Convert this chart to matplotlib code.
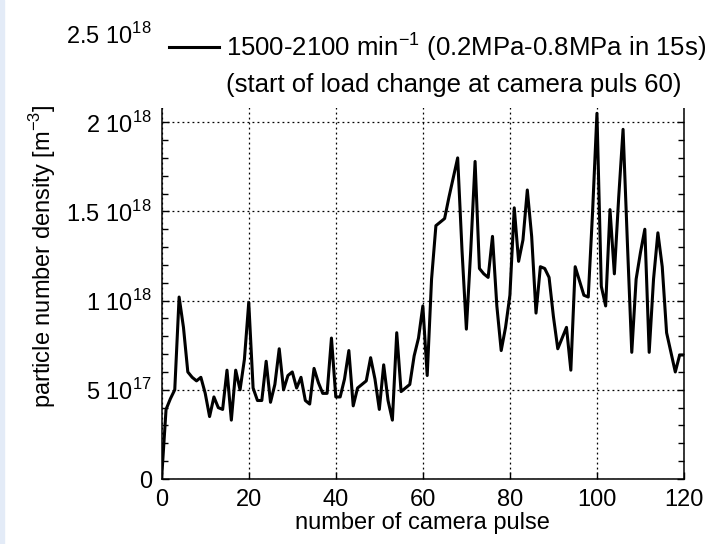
import matplotlib
matplotlib.use("Agg")
import matplotlib.pyplot as plt
from matplotlib.lines import Line2D
from matplotlib.patches import Rectangle
from matplotlib.ticker import MultipleLocator, FixedLocator, FixedFormatter

plt.rcParams['font.family'] = ['Liberation Sans', 'DejaVu Sans']

# camera pulse number 0..120
pulse = list(range(121))
# particle number density, units of 1e17 m^-3
density_e17 = [
    0.1, 3.9, 4.5, 5.0, 10.2, 8.5, 6.0, 5.7, 5.5, 5.7,
    4.8, 3.5, 4.6, 4.0, 3.9, 6.1, 3.3, 6.1, 5.0, 6.7,
    9.9, 5.1, 4.4, 4.4, 6.6, 4.3, 5.3, 7.3, 5.0, 5.8,
    6.0, 5.1, 5.7, 4.4, 4.2, 6.2, 5.4, 4.8, 4.8, 7.9,
    4.6, 4.6, 5.6, 7.2, 4.1, 5.1, 5.3, 5.5, 6.8, 5.6,
    3.9, 6.4, 4.4, 3.3, 8.2, 4.9, 5.1, 5.3, 6.9, 7.9,
    9.7, 5.8, 11.2, 14.2, 14.4, 14.6, 15.8, 16.9, 18.0, 12.8,
    8.4, 12.8, 17.8, 11.8, 11.5, 11.3, 13.6, 9.7, 7.2, 8.5,
    10.3, 15.2, 12.2, 13.4, 16.2, 13.6, 9.3, 11.9, 11.8, 11.3,
    9.1, 7.3, 7.9, 8.5, 6.1, 11.9, 11.1, 10.3, 10.2, 15.0,
    20.5, 10.8, 9.7, 15.1, 11.5, 15.8, 19.6, 13.2, 7.1, 11.2,
    12.7, 14.0, 7.1, 11.2, 13.8, 11.9, 8.2, 7.1, 6.0, 6.95,
    6.95,
]
density = [v * 1e17 for v in density_e17]

yticks = [0, 5e17, 1e18, 1.5e18, 2e18, 2.5e18]
ytick_labels = ['0', r'5 10$^{\mathregular{17}}$', r'1 10$^{\mathregular{18}}$',
                r'1.5 10$^{\mathregular{18}}$', r'2 10$^{\mathregular{18}}$',
                r'2.5 10$^{\mathregular{18}}$']
legend_lines = [r'1500-2100 min$^{\mathregular{-1}}$ (0.2MPa-0.8MPa in 15s)',
                '(start of load change at camera puls 60)']

W, H = 707, 544
fs = 17
fig = plt.figure(figsize=(W / 100, H / 100), dpi=100)
fig.patch.set_facecolor('white')
fig.patches.append(Rectangle((0, 0), 4 / W, 1, transform=fig.transFigure,
                             color='#e3ebf7', zorder=0))

x0, x1, y0, y1 = 161.7, 684, 479, 33
ax = fig.add_axes([x0 / W, 1 - y0 / H, (x1 - x0) / W, (y0 - y1) / H])
ax.plot(pulse, density, color='k', lw=2.2)

ax.set_xlim(0, 120)
ax.set_ylim(0, 2.5e18)
ax.xaxis.set_major_locator(MultipleLocator(20))
ax.yaxis.set_major_locator(FixedLocator(yticks))
ax.yaxis.set_major_formatter(FixedFormatter(ytick_labels))
ax.yaxis.set_minor_locator(MultipleLocator(1e17))
ax.tick_params(which='both', direction='in', top=True, right=True,
               labelsize=fs, width=1)
ax.tick_params(which='major', length=5, pad=7)
ax.tick_params(which='minor', length=4)
ax.grid(True, color='k', linestyle=(0, (1.5, 2.5)), lw=0.9)
for s in ax.spines.values():
    s.set_linewidth(1.1)

ax.set_xlabel('number of camera pulse', fontsize=fs, labelpad=1)
ax.set_ylabel(r'particle number density [m$^{\mathregular{-3}}$]', fontsize=fs,
              labelpad=6)

handles = [Line2D([], [], color='k', lw=2.2), Line2D([], [], color='none')]
leg = fig.legend(handles, legend_lines, loc='upper left',
                 bbox_to_anchor=(159 / W, 1 - 20 / H), fontsize=18.5,
                 frameon=True, fancybox=False, framealpha=1,
                 handlelength=1.95, handletextpad=0.25, labelspacing=0.4,
                 borderpad=0.4, borderaxespad=0)
leg.get_frame().set_facecolor('white')
leg.get_frame().set_edgecolor('none')

fig.savefig('out.png', dpi=100)
